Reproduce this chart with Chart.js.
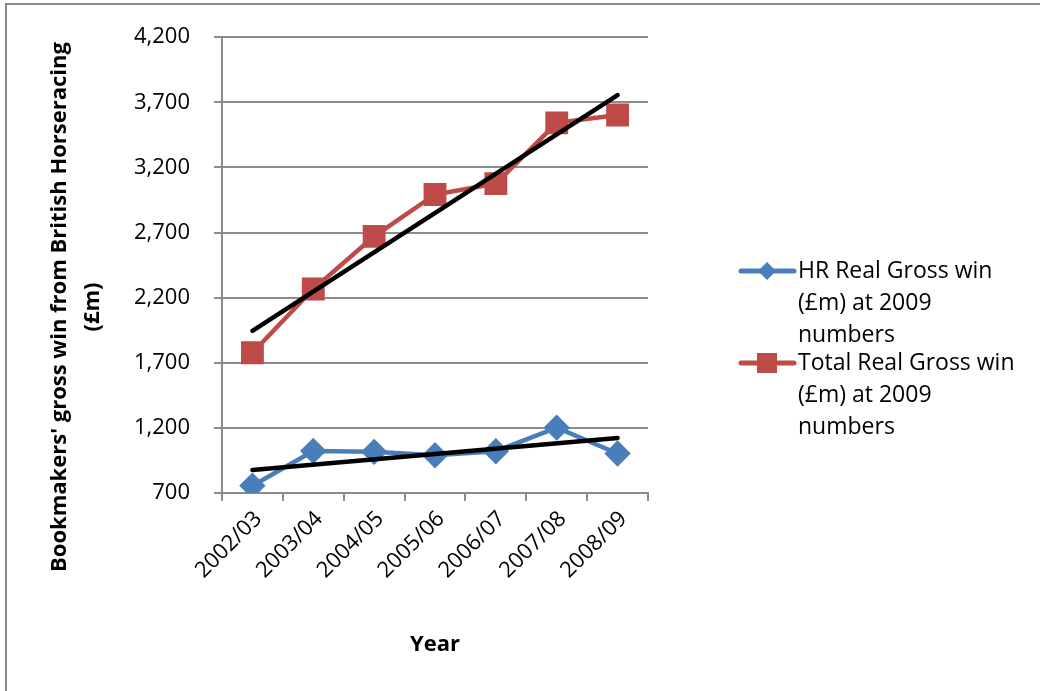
<!DOCTYPE html>
<html>
<head>
<meta charset="utf-8">
<script src="https://cdn.jsdelivr.net/npm/chart.js@4/dist/chart.umd.min.js"></script>
<style>
  html, body { margin: 0; padding: 0; background: #fff; }
  #wrap { width: 1040px; height: 691px; position: relative; }
</style>
</head>
<body>
<div id="wrap"><canvas id="chart" width="1040" height="691"></canvas></div>
<script>
// Data
const years = ['2002/03', '2003/04', '2004/05', '2005/06', '2006/07', '2007/08', '2008/09'];
const hrGrossWin = [756, 1023, 1016, 990, 1021, 1202, 1003];
const totalGrossWin = [1777, 2266, 2671, 2992, 3076, 3542, 3603];
// trend lines: end points only
const hrTrend = [876, null, null, null, null, null, 1122];
const totalTrend = [1945, null, null, null, null, null, 3756];

const hrLabel = ['HR Real Gross win', '(£m) at 2009', 'numbers'];
const totalLabel = ['Total Real Gross win', '(£m) at 2009', 'numbers'];
const yTitle = ["Bookmakers' gross win from British Horseracing", '(£m)'];

const FONT = '"Open Sans", sans-serif';
const BLUE = '#4a7ebb';
const RED = '#be4b48';
const GRID = '#8c8c8c';

// frame round the whole chart (only top and left edges show)
const framePlugin = {
    id: 'frame',
    beforeDraw(chart) {
        const ctx = chart.ctx;
        ctx.save();
        ctx.fillStyle = '#fff';
        ctx.fillRect(0, 0, chart.width, chart.height);
        ctx.strokeStyle = '#8a8a8a';
        ctx.lineWidth = 2;
        ctx.beginPath();
        ctx.moveTo(6, chart.height);
        ctx.lineTo(6, 4);
        ctx.lineTo(chart.width, 4);
        ctx.stroke();
        ctx.restore();
    }
};

// y axis title, two lines, centred a bit below the plot centre like the original
const yTitlePlugin = {
    id: 'yTitle',
    afterDraw(chart) {
        const ctx = chart.ctx;
        ctx.save();
        ctx.translate(60, 307);
        ctx.rotate(-Math.PI / 2);
        ctx.fillStyle = '#000';
        ctx.font = 'bold 22px ' + FONT;
        ctx.textAlign = 'center';
        ctx.textBaseline = 'middle';
        yTitle.forEach((t, i) => ctx.fillText(t, 0, i * 33));
        ctx.restore();
    }
};

// legend with wrapped labels, drawn at the right
const legendPlugin = {
    id: 'wrapLegend',
    afterDraw(chart) {
        const ctx = chart.ctx;
        const items = [
            { ds: chart.data.datasets[0], lines: hrLabel, y: 271 },
            { ds: chart.data.datasets[1], lines: totalLabel, y: 363 }
        ];
        ctx.save();
        items.forEach(it => {
            ctx.strokeStyle = it.ds.borderColor;
            ctx.lineWidth = 5;
            ctx.lineCap = 'round';
            ctx.beginPath();
            ctx.moveTo(741, it.y);
            ctx.lineTo(794, it.y);
            ctx.stroke();
            ctx.fillStyle = it.ds.pointBackgroundColor;
            ctx.beginPath();
            if (it.ds.pointStyle === 'rectRot') {
                ctx.moveTo(767 - 9, it.y); ctx.lineTo(767, it.y - 9);
                ctx.lineTo(767 + 9, it.y); ctx.lineTo(767, it.y + 9);
            } else {
                ctx.rect(767 - 10, it.y - 10, 20, 20);
            }
            ctx.closePath();
            ctx.fill();
            ctx.fillStyle = '#000';
            ctx.font = '23px ' + FONT;
            ctx.textBaseline = 'middle';
            it.lines.forEach((t, i) => ctx.fillText(t, 798, it.y + i * 32));
        });
        ctx.restore();
    }
};

new Chart(document.getElementById('chart'), {
    type: 'line',
    data: {
        labels: years,
        datasets: [
            {
                label: hrLabel.join(' '),
                data: hrGrossWin,
                borderColor: BLUE,
                backgroundColor: BLUE,
                pointBackgroundColor: BLUE,
                pointBorderColor: BLUE,
                pointStyle: 'rectRot',
                pointRadius: 10,
                borderWidth: 4.5,
                order: 2
            },
            {
                label: totalLabel.join(' '),
                data: totalGrossWin,
                borderColor: RED,
                backgroundColor: RED,
                pointBackgroundColor: RED,
                pointBorderColor: RED,
                pointStyle: 'rect',
                pointRadius: 13,
                borderWidth: 4.5,
                order: 2
            },
            {
                label: 'HR trend',
                data: hrTrend,
                borderColor: '#000',
                borderWidth: 4.5,
                pointRadius: 0,
                spanGaps: true,
                borderCapStyle: 'round',
                order: 1
            },
            {
                label: 'Total trend',
                data: totalTrend,
                borderColor: '#000',
                borderWidth: 4.5,
                pointRadius: 0,
                spanGaps: true,
                borderCapStyle: 'round',
                order: 1
            }
        ]
    },
    options: {
        responsive: false,
        animation: false,
        layout: { padding: { top: 35, right: 392, left: 0, bottom: 0 } },
        plugins: {
            legend: { display: false },
            tooltip: { enabled: false }
        },
        scales: {
            x: {
                offset: true,
                grid: {
                    offset: true,
                    drawOnChartArea: false,
                    drawTicks: true,
                    tickLength: 8,
                    color: GRID,
                    lineWidth: 2
                },
                border: { color: GRID, width: 2 },
                ticks: {
                    color: '#000',
                    font: { family: FONT, size: 22 },
                    minRotation: 45,
                    maxRotation: 45,
                    padding: 5,
                    labelOffset: 6
                },
                title: {
                    display: true,
                    text: 'Year',
                    color: '#000',
                    font: { family: FONT, size: 22, weight: 'bold' },
                    padding: { top: 0, bottom: 33 }
                },
                afterFit(scale) { scale.height = 198; }
            },
            y: {
                min: 700,
                max: 4200,
                grid: {
                    color: GRID,
                    lineWidth: 2,
                    tickLength: 8
                },
                border: { color: GRID, width: 2 },
                ticks: {
                    stepSize: 500,
                    color: '#000',
                    font: { family: FONT, size: 22 },
                    padding: 24,
                    callback: v => v.toLocaleString('en-US')
                },
                afterFit(scale) { scale.width = 222; }
            }
        }
    },
    plugins: [framePlugin, yTitlePlugin, legendPlugin]
});
</script>
</body>
</html>
